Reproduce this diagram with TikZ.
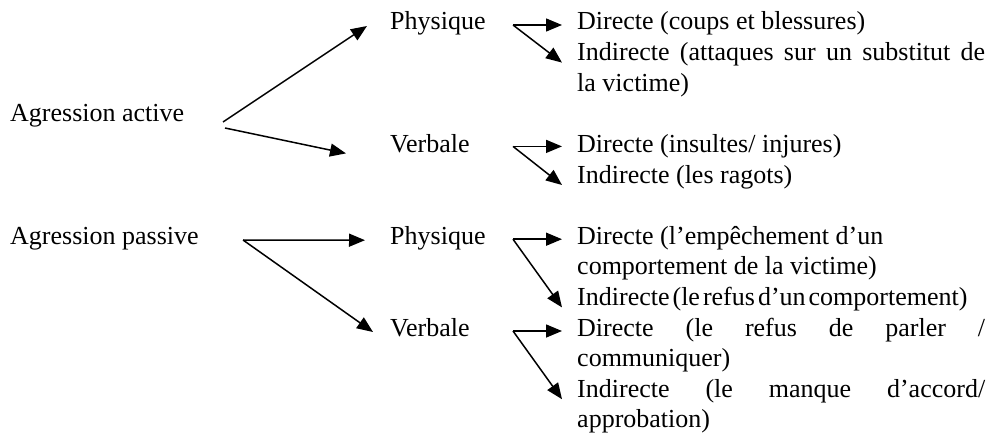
\documentclass[tikz,border=0pt]{standalone}
\usepackage{fontspec}
\setmainfont{Liberation Serif}
\usetikzlibrary{arrows.meta,calc}
\begin{document}
\begin{tikzpicture}[x=1pt,y=-1pt,
  lbl/.style={anchor=base west,inner sep=0pt,font=\fontsize{26}{30.6}\selectfont},
  conn/.style={line width=1.5pt,-{Triangle[length=16pt,width=13pt]}},
]
\useasboundingbox (0,0) rectangle (998,433);
% left column
\node[lbl] (aa) at (10,122) {Agression active};
\node[lbl] (ap) at (10,244.2) {Agression passive};
% middle column
\node[lbl] (ph1) at (390,30) {Physique};
\node[lbl] (vb1) at (390,152.4) {Verbale};
\node[lbl] (ph2) at (390,244.2) {Physique};
\node[lbl] (vb2) at (390,336) {Verbale};
% right column
\node[lbl] (d1) at (577,30) {Directe (coups et blessures)};
\node[lbl] (i1) at (577,60.6) {\parbox[t]{408pt}{Indirecte (attaques sur un substitut de\linebreak la victime)}};
\node[lbl] (d2) at (577,152.4) {Directe (insultes/ injures)};
\node[lbl] (i2) at (577,183) {Indirecte (les ragots)};
\node[lbl] (d3) at (577,244.2) {\parbox[t]{408pt}{Directe (l’empêchement d’un\\comportement de la victime)}};
\node[lbl] (i3) at (577,305.4) {{\spaceskip=3pt\relax Indirecte (le refus d’un comportement)}};
\node[lbl] (d4) at (577,336) {\parbox[t]{408pt}{Directe (le refus de parler /\linebreak communiquer)}};
\node[lbl] (i4) at (577,397.2) {\parbox[t]{408pt}{Indirecte (le manque d’accord/\linebreak approbation)}};
% connector origins
\coordinate (sa1) at (223,122);
\coordinate (sa2) at (225,128);
\coordinate (sp) at (243,240);
\coordinate (g1) at ($(d1.base west)+(-64,-5)$);
\coordinate (g2) at ($(d2.base west)+(-64,-6)$);
\coordinate (g3) at ($(d3.base west)+(-64,-5)$);
\coordinate (g4) at ($(d4.base west)+(-64,-5)$);
% first level
\draw[conn] (sa1) -- ($(ph1.base west)+(-23,-4)$);
\draw[conn] (sa2) -- ($(vb1.base west)+(-44,1)$);
\draw[conn] (sp) -- ($(ph2.base west)+(-25,-4)$);
\draw[conn] (sp) -- ($(vb2.base west)+(-17,-4)$);
% second level
\draw[conn] (g1) -- ($(d1.base west)+(-15,-5)$);
\draw[conn] (g1) -- ($(i1.base west)+(-15,2)$);
\draw[conn] (g2) -- ($(d2.base west)+(-15,-6)$);
\draw[conn] (g2) -- ($(i2.base west)+(-15,2)$);
\draw[conn] (g3) -- ($(d3.base west)+(-15,-5)$);
\draw[conn] (g3) -- ($(i3.base west)+(-15,2)$);
\draw[conn] (g4) -- ($(d4.base west)+(-15,-5)$);
\draw[conn] (g4) -- ($(i4.base west)+(-15,2)$);
\end{tikzpicture}
\end{document}
